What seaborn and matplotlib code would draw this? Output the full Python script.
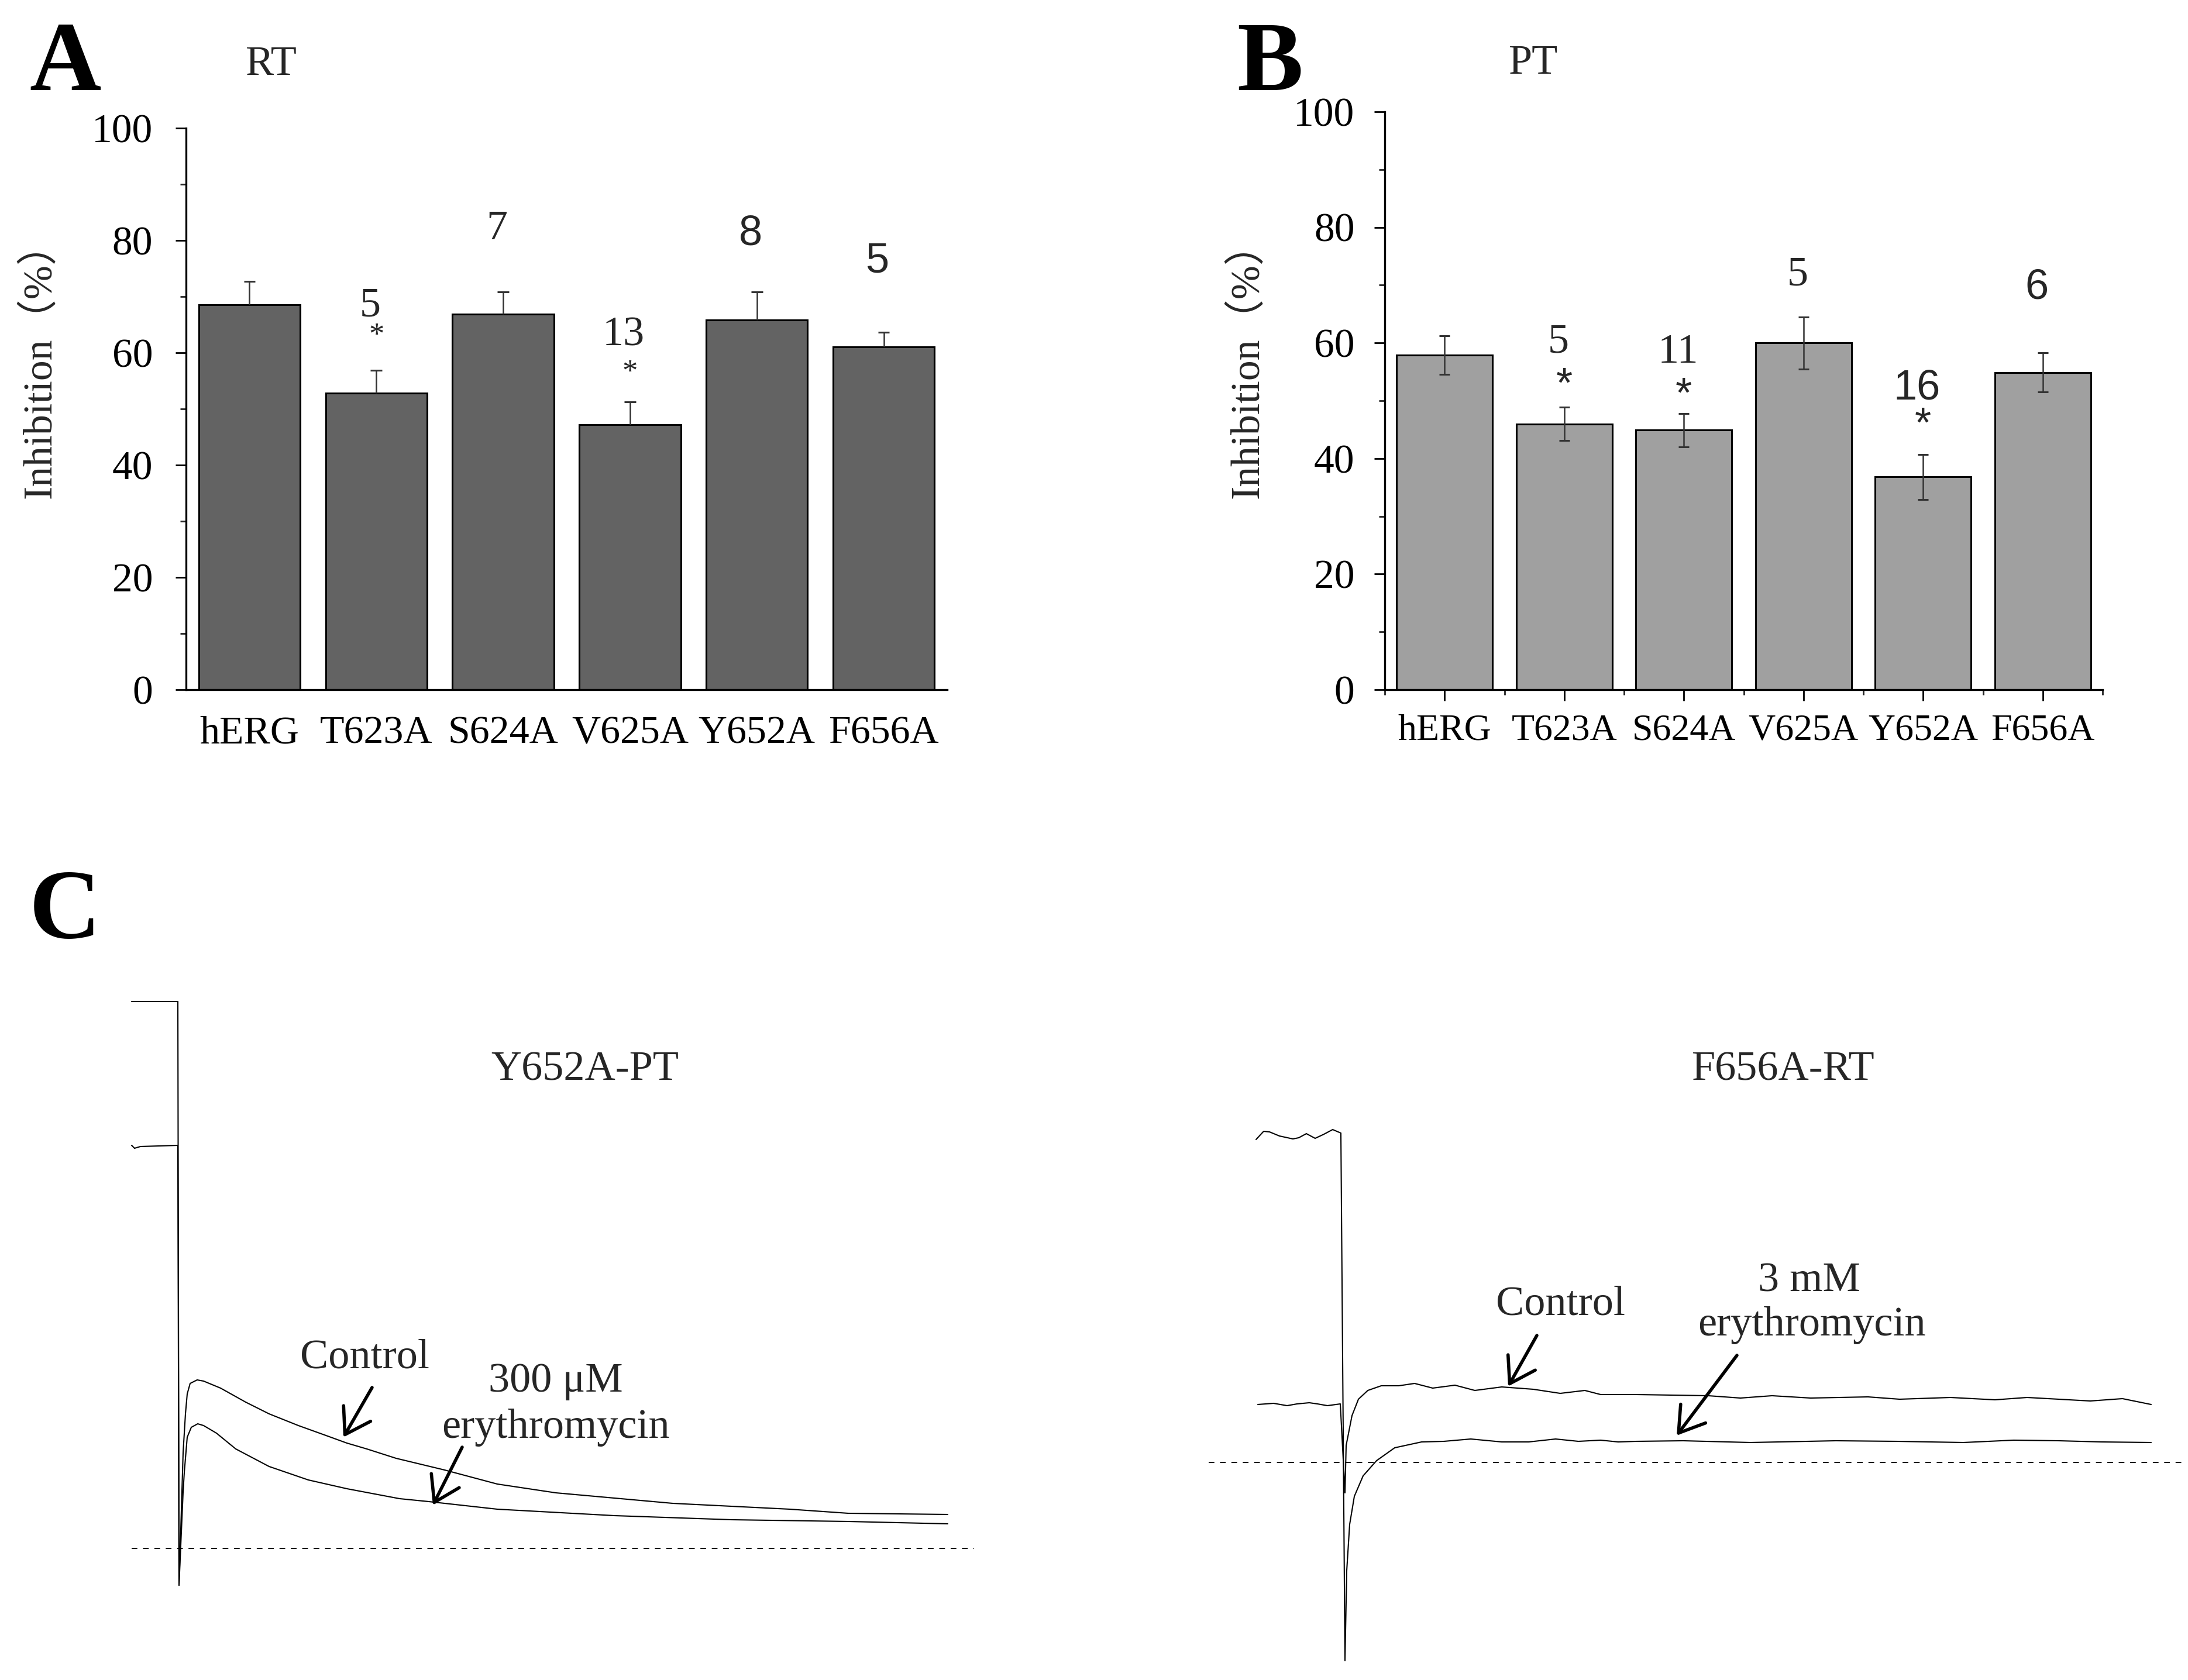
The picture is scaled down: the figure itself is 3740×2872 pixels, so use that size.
import numpy as np
import pandas as pd
import matplotlib
matplotlib.use("Agg")
import matplotlib.pyplot as plt
from matplotlib.ticker import MultipleLocator, FixedLocator
import seaborn as sns


sns.set_theme(style="white")
SERIF = ["Liberation Serif", "Noto Sans CJK SC", "DejaVu Sans"]
SANS = ["Liberation Sans", "DejaVu Sans"]
plt.rcParams["font.family"] = SERIF

# ---- bar chart data (inhibition %, mean and SEM) ----
mutants = ["hERG", "T623A", "S624A", "V625A", "Y652A", "F656A"]

rt_mean = [68.5, 52.8, 66.9, 47.2, 65.8, 61.0]
rt_sem = [4.2, 4.1, 3.9, 4.0, 5.0, 2.6]
rt_n = ["", "5", "7", "13", "8", "5"]
rt_n_y = [None, 68.3, 82.0, 63.1, 81.1, 76.2]
rt_star_y = [None, 62.9, None, 56.4, None, None]
rt_n_sans = [False, False, False, False, True, True]

pt_mean = [57.9, 46.0, 44.9, 60.0, 36.8, 54.9]
pt_sem = [3.3, 2.9, 2.9, 4.5, 3.9, 3.4]
pt_n = ["", "5", "11", "5", "16", "6"]
pt_n_y = [None, 60.1, 58.4, 71.8, 52.1, 69.5]
pt_star_y = [None, 52.5, 50.8, None, 45.6, None]
pt_n_sans = [False, False, False, False, True, True]

# ---- current traces (time in ms, current in nA) ----
y652_ctrl_t = [-160, -2, 2, 10, 16, 24, 30, 40, 64, 86, 144, 230, 310, 410, 510,
               576, 644, 744, 910, 1090, 1290, 1690, 2090, 2290, 2630]
y652_ctrl_i = [9.35, 9.35, -0.63, 0.64, 1.64, 2.30, 2.64, 2.82, 2.88, 2.86, 2.74,
               2.50, 2.30, 2.10, 1.92, 1.80, 1.70, 1.54, 1.34, 1.10, 0.95, 0.77,
               0.67, 0.60, 0.58]
y652_drug_t = [-160, -150, -130, -2, 2, 16, 20, 30, 44, 66, 86, 130, 196, 310, 444,
               576, 756, 856, 1090, 1490, 1890, 2290, 2630]
y652_drug_i = [6.89, 6.84, 6.87, 6.89, -0.63, 0.97, 1.30, 1.90, 2.07, 2.13, 2.10,
               1.97, 1.70, 1.40, 1.17, 1.02, 0.85, 0.80, 0.67, 0.56, 0.49, 0.46, 0.42]
y652_base_t = [-160, 2720]

f656_ctrl_t = [-284, -230, -184, -150, -108, -80, -46, -2, 14, 18, 38, 60, 92, 138,
               198, 252, 314, 390, 458, 550, 658, 750, 834, 888, 1010, 1256, 1366,
               1474, 1606, 1802, 1910, 2084, 2236, 2346, 2562, 2672, 2770]
f656_ctrl_i = [0.99, 1.01, 0.97, 1.00, 1.02, 1.00, 0.97, 1.00, -0.52, 0.29, 0.80,
               1.08, 1.23, 1.31, 1.31, 1.35, 1.27, 1.32, 1.23, 1.29, 1.25, 1.18,
               1.23, 1.16, 1.16, 1.14, 1.10, 1.14, 1.10, 1.12, 1.08, 1.11, 1.07,
               1.11, 1.05, 1.09, 0.99]
f656_drug_t = [-290, -264, -244, -210, -164, -144, -118, -88, -58, -28, 0, 14, 20,
               30, 46, 76, 122, 184, 276, 352, 444, 550, 642, 734, 812, 888, 948,
               1010, 1170, 1400, 1692, 1900, 2128, 2300, 2454, 2600, 2770]
f656_drug_i = [5.52, 5.66, 5.65, 5.58, 5.53, 5.55, 5.62, 5.54, 5.61, 5.69, 5.63,
               -3.39, -1.85, -1.06, -0.58, -0.23, 0.03, 0.25, 0.35, 0.36, 0.40,
               0.35, 0.35, 0.40, 0.36, 0.38, 0.35, 0.36, 0.37, 0.34, 0.37, 0.36,
               0.34, 0.38, 0.37, 0.35, 0.34]
f656_base_t = [-452, 2886]

W, H = 3740, 2872
fig = plt.figure(figsize=(W / 100, H / 100), dpi=100)


def px_box(x0, y0, x1, y1):
    # pixel box (top-left origin) -> figure fraction rect
    return [x0 / W, 1 - y1 / H, (x1 - x0) / W, (y1 - y0) / H]


def bar_panel(rect, means, sems, color, both, labels, label_y, star_y, sans,
              xticks, ypad, xsize):
    ax = fig.add_axes(rect)
    df = pd.DataFrame({"mutant": mutants, "inhibition": means})
    sns.barplot(data=df, x="mutant", y="inhibition", order=mutants, color=color,
                saturation=1, width=0.8, edgecolor="black", linewidth=2.2,
                errorbar=None, ax=ax)
    x = np.arange(len(mutants))
    m = np.array(means)
    s = np.array(sems)
    lo = m - s if both else m
    ax.vlines(x, lo, m + s, color="#333333", lw=1.8, zorder=3)
    ax.hlines(m + s, x - 0.045, x + 0.045, color="#333333", lw=2.2, zorder=3)
    if both:
        ax.hlines(m - s, x - 0.045, x + 0.045, color="#333333", lw=2.2, zorder=3)

    for i, lab in enumerate(labels):
        if lab:
            ax.text(i - 0.05, label_y[i], lab, ha="center", va="center", fontsize=52,
                    family=SANS if sans[i] else SERIF)
        if star_y[i] is not None:
            if both:
                ax.text(i, star_y[i], "*", ha="center", va="center", fontsize=52,
                        family=SANS)
            else:
                ax.text(i, star_y[i], "*", ha="center", va="center", fontsize=38,
                        family=SERIF)

    ax.set_xlim(-0.5, 5.5)
    ax.set_ylim(0, 100)
    ax.set_xlabel("")
    ax.set_ylabel("")
    ax.yaxis.set_major_locator(MultipleLocator(20))
    ax.yaxis.set_minor_locator(MultipleLocator(10))
    for side in ["top", "right"]:
        ax.spines[side].set_visible(False)
    for side in ["left", "bottom"]:
        ax.spines[side].set_color("black")
        ax.spines[side].set_linewidth(2.4)
    ax.tick_params(axis="y", which="major", left=True, direction="out", length=13,
                   width=2.0, pad=ypad, labelsize=50, colors="black")
    ax.tick_params(axis="y", which="minor", left=True, direction="out", length=7,
                   width=2.0)
    if xticks:
        ax.xaxis.set_minor_locator(FixedLocator(np.arange(-0.5, 6.0, 1.0)))
        ax.tick_params(axis="x", which="major", bottom=True, direction="out",
                       length=14, width=2.0, pad=16, labelsize=xsize, colors="black")
        ax.tick_params(axis="x", which="minor", bottom=True, direction="out",
                       length=6.5, width=2.0)
    else:
        ax.tick_params(axis="x", which="both", bottom=False, length=0, pad=32,
                       labelsize=xsize, colors="black")
    return ax


bar_panel(px_box(318, 219, 1619, 1179), rt_mean, rt_sem, "#636363", False,
          rt_n, rt_n_y, rt_star_y, rt_n_sans, False, 28, 49)
bar_panel(px_box(2367, 191, 3594, 1179), pt_mean, pt_sem, "#a0a0a0", True,
          pt_n, pt_n_y, pt_star_y, pt_n_sans, True, 24, 46)

ylab = "Inhibition（%）"
fig.text(69 / W, 1 - 616 / H, ylab, rotation=90, ha="center", va="center",
         fontsize=50)
fig.text(2133 / W, 1 - 616 / H, ylab, rotation=90, ha="center", va="center",
         fontsize=50)

# panel letters and condition titles
for letter, (lx, ly) in {"A": (50, 154), "B": (2114, 154), "C": (50, 1603)}.items():
    fig.text(lx / W, 1 - ly / H, letter, ha="left", va="baseline", fontsize=122,
             fontweight="bold", color="black")
fig.text(464 / W, 1 - 128 / H, "RT", ha="center", va="baseline", fontsize=52)
fig.text(2621 / W, 1 - 126 / H, "PT", ha="center", va="baseline", fontsize=52)

# ---- panel C traces ----
arrow = dict(arrowstyle="->,head_length=0.5,head_width=0.32", lw=4.0,
             color="black", mutation_scale=60, shrinkA=0, shrinkB=0)


def trace_panel(rect, xlim, ylim, traces, base_t):
    ax = fig.add_axes(rect)
    for t, cur in traces:
        sns.lineplot(x=t, y=cur, ax=ax, color="black", lw=1.5, sort=False,
                     estimator=None)
    ax.hlines(0, base_t[0], base_t[1], color="black", lw=1.4,
              linestyles=(0, (5, 5)))
    ax.set_xlim(*xlim)
    ax.set_ylim(*ylim)
    ax.axis("off")
    return ax


axl = trace_panel(px_box(150, 1650, 1700, 2760), (-310, 2790), (-1.13, 9.97),
                  [(y652_ctrl_t, y652_ctrl_i), (y652_drug_t, y652_drug_i)],
                  y652_base_t)
axl.text(1390, 8.18, "Y652A-PT", ha="center", va="center", fontsize=52)
axl.text(638, 3.26, "Control", ha="center", va="center", fontsize=52)
axl.text(1290, 2.86, "300 μM", ha="center", va="center", fontsize=52)
axl.text(1290, 2.07, "erythromycin", ha="center", va="center", fontsize=52)
axl.annotate("", xy=(564, 1.90), xytext=(662, 2.75), arrowprops=arrow)
axl.annotate("", xy=(870, 0.74), xytext=(970, 1.73), arrowprops=arrow)

axr = trace_panel(px_box(2050, 1850, 3740, 2870), (-484, 2896), (-3.70, 6.50),
                  [(f656_ctrl_t, f656_ctrl_i), (f656_drug_t, f656_drug_i)],
                  f656_base_t)
axr.text(1512, 6.71, "F656A-RT", ha="center", va="center", fontsize=52)
axr.text(750, 2.70, "Control", ha="center", va="center", fontsize=52)
axr.text(1600, 3.10, "3 mM", ha="center", va="center", fontsize=52)
axr.text(1610, 2.34, "erythromycin", ha="center", va="center", fontsize=52)
axr.annotate("", xy=(572, 1.30), xytext=(670, 2.17), arrowprops=arrow)
axr.annotate("", xy=(1148, 0.46), xytext=(1354, 1.83), arrowprops=arrow)

fig.savefig("out.png", dpi=100, facecolor="white")
